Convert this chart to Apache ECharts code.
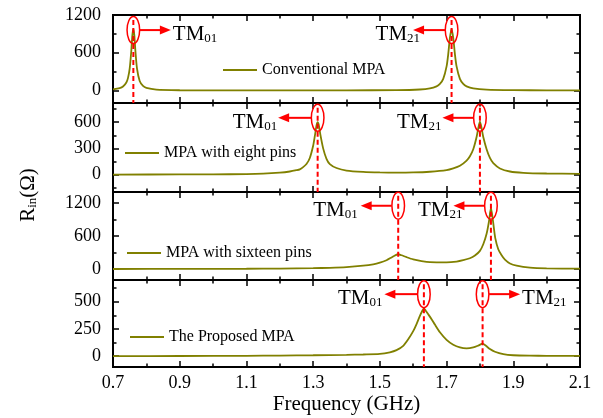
<!DOCTYPE html>
<html>
<head>
<meta charset="utf-8">
<script src="https://cdn.jsdelivr.net/npm/echarts@6/dist/echarts.min.js"></script>
<style>
  html, body { margin: 0; padding: 0; background: #fff; }
  #chart { width: 603px; height: 418px; }
</style>
</head>
<body>
<div id="chart"></div>
<script>
// Input resistance of four microstrip patch antenna variants vs. frequency

// Frequency axis ticks (GHz)
const xMajorTicks = [0.7, 0.9, 1.1, 1.3, 1.5, 1.7, 1.9, 2.1];
const xMinorTicks = [0.8, 1.0, 1.2, 1.4, 1.6, 1.8, 2.0];

// Series names
const seriesNames = ['Conventional MPA', 'MPA with eight pins', 'MPA with sixteen pins', 'The Proposed MPA'];

// Conventional MPA
const freqConventional = [0.70, 0.72, 0.73, 0.74, 0.745, 0.75, 0.755, 0.758, 0.761, 0.764,
  0.767, 0.772, 0.78, 0.79, 0.80, 0.83, 0.90, 1.00, 1.20, 1.40,
  1.55, 1.62, 1.65, 1.67, 1.68, 1.69, 1.70, 1.705, 1.71, 1.715,
  1.72, 1.725, 1.73, 1.74, 1.75, 1.76, 1.78, 1.82, 1.90, 2.00, 2.10];
const rinConventional = [17, 37, 62, 127, 200, 346, 640, 877, 980, 877,
  640, 346, 150, 71, 40, 13, 3, 1, 0, 2,
  5, 15, 32, 65, 103, 183, 382, 578, 835, 980,
  835, 578, 382, 183, 103, 65, 32, 12, 4, 2, 1];

// MPA with eight pins
const freqEightPins = [0.70, 0.90, 1.00, 1.10, 1.15, 1.20, 1.23, 1.25, 1.26, 1.27,
  1.28, 1.29, 1.30, 1.305, 1.31, 1.3135, 1.317, 1.322, 1.33, 1.34,
  1.35, 1.37, 1.40, 1.45, 1.50, 1.55, 1.60, 1.65, 1.70, 1.72,
  1.74, 1.76, 1.77, 1.78, 1.79, 1.795, 1.80, 1.805, 1.81, 1.82,
  1.83, 1.84, 1.86, 1.89, 1.93, 2.00, 2.10];
const rinEightPins = [0, 1, 2, 5, 10, 22, 35, 50, 60, 85,
  120, 190, 330, 440, 560, 600, 565, 450, 300, 180,
  120, 75, 45, 30, 24, 22, 24, 32, 50, 70,
  100, 160, 210, 290, 430, 530, 605, 530, 430, 290,
  190, 130, 70, 35, 20, 12, 8];

// MPA with sixteen pins
const freqSixteenPins = [0.70, 0.90, 1.10, 1.20, 1.30, 1.35, 1.40, 1.45, 1.48, 1.50,
  1.52, 1.535, 1.545, 1.555, 1.565, 1.58, 1.60, 1.625, 1.65, 1.70,
  1.73, 1.75, 1.77, 1.785, 1.80, 1.81, 1.82, 1.827, 1.833, 1.839,
  1.846, 1.855, 1.865, 1.875, 1.89, 1.91, 1.95, 2.00, 2.10];
const rinSixteenPins = [0, 2, 5, 8, 15, 22, 35, 60, 85, 115,
  160, 210, 245, 268, 250, 215, 175, 145, 125, 120,
  135, 160, 195, 245, 330, 450, 640, 860, 1110, 880,
  560, 360, 250, 170, 100, 60, 25, 12, 6];

// The proposed MPA
const freqProposed = [0.70, 0.90, 1.10, 1.20, 1.30, 1.40, 1.45, 1.50, 1.53, 1.55,
  1.57, 1.585, 1.60, 1.61, 1.62, 1.627, 1.632, 1.637, 1.645, 1.655,
  1.665, 1.68, 1.70, 1.72, 1.74, 1.76, 1.78, 1.795, 1.808, 1.818,
  1.83, 1.845, 1.87, 1.90, 1.95, 2.00, 2.10];
const rinProposed = [0, 1, 3, 5, 8, 12, 15, 20, 35, 55,
  95, 155, 230, 295, 370, 415, 440, 420, 385, 340,
  290, 220, 150, 105, 80, 72, 80, 97, 115, 95,
  65, 40, 18, 8, 4, 3, 2];

// Resonant mode frequencies (GHz) marked in each panel: [TM01, TM21]
const modeFreqs = [[0.761, 1.715], [1.3135, 1.80], [1.555, 1.833], [1.632, 1.808]];

// Y tick labels per panel (Ω)
const yMajorTicks = [[0, 600, 1200], [0, 300, 600], [0, 600, 1200], [0, 250, 500]];
const yMinorTicks = [[300, 900], [-150, 150, 450, 750], [300, 900], [125, 375, 625]];

// ---- layout / styling ----
const FONT = 'Liberation Serif';
const OLIVE = '#808000';
const RED = '#ff0000';
const panels = [
  { freq: freqConventional, rin: rinConventional, top: 15, height: 88, yMin: -200, yMax: 1200, legend: [223, 62], mark: 960 },
  { freq: freqEightPins, rin: rinEightPins, top: 103, height: 89, yMin: -200, yMax: 820, legend: [125, 145], mark: 650 },
  { freq: freqSixteenPins, rin: rinSixteenPins, top: 192, height: 88, yMin: -200, yMax: 1400, legend: [127, 245], mark: 1150 },
  { freq: freqProposed, rin: rinProposed, top: 280, height: 87, yMin: -100, yMax: 700, legend: [130, 329], mark: 570 }
];
// Arrow direction, arrow length and label offset from the arrow tip for each mode marker
const markerLayout = [
  [{ dir: 1, len: 31, shift: 2 }, { dir: -1, len: 32, shift: 7 }],
  [{ dir: -1, len: 33, shift: -1 }, { dir: -1, len: 31, shift: -1 }],
  [{ dir: -1, len: 31, shift: -3 }, { dir: -1, len: 31, shift: 9 }],
  [{ dir: -1, len: 33, shift: -2 }, { dir: 1, len: 31, shift: 2 }]
];
const modeNames = ['01', '21'];

const chart = echarts.init(document.getElementById('chart'), null, { renderer: 'canvas' });

const tickStyle = { color: '#000', width: 1.5 };
const labelStyle = { fontFamily: FONT, fontSize: 18, color: '#000' };

const grids = [], xAxes = [], yAxes = [], series = [], legends = [];

panels.forEach((p, i) => {
  grids.push({
    left: 113, right: 23, top: p.top, height: p.height,
    show: true, borderColor: '#000', borderWidth: 2, backgroundColor: 'transparent'
  });
  ['bottom', 'top'].forEach(pos => {
    [xMajorTicks, xMinorTicks].forEach((ticks, k) => {
      const isLabelled = pos === 'bottom' && k === 0 && i === 3;
      const ax = {
        type: 'value', gridIndex: i, position: pos, min: 0.7, max: 2.1,
        axisLine: { show: false, onZero: false },
        axisTick: { show: true, inside: true, length: k === 0 ? 6 : 3.5, customValues: ticks, lineStyle: tickStyle },
        axisLabel: Object.assign({ show: isLabelled, customValues: ticks, margin: 7,
          formatter: v => v.toFixed(1) }, labelStyle),
        splitLine: { show: false }
      };
      if (isLabelled) {
        ax.name = 'Frequency (GHz)';
        ax.nameLocation = 'middle';
        ax.nameGap = 27;
        ax.nameTextStyle = { fontFamily: FONT, fontSize: 21, color: '#000' };
      }
      xAxes.push(ax);
    });
  });
  ['left', 'right'].forEach(pos => {
    [yMajorTicks[i], yMinorTicks[i]].forEach((ticks, k) => {
      yAxes.push({
        type: 'value', gridIndex: i, position: pos, min: p.yMin, max: p.yMax,
        axisLine: { show: false, onZero: false },
        axisTick: { show: true, inside: true, length: k === 0 ? 6 : 3.5, customValues: ticks, lineStyle: tickStyle },
        axisLabel: Object.assign({ show: pos === 'left' && k === 0, customValues: ticks, margin: 12,
          formatter: v => String(v) }, labelStyle),
        splitLine: { show: false }
      });
    });
  });
  series.push({
    type: 'line', name: seriesNames[i],
    xAxisIndex: i * 4, yAxisIndex: i * 4,
    data: p.freq.map((f, j) => [f, p.rin[j]]),
    symbol: 'none', smooth: 0.25,
    lineStyle: { color: OLIVE, width: 1.8 },
    itemStyle: { color: OLIVE },
    z: 3
  });
  legends.push({
    data: [seriesNames[i]], left: p.legend[0], top: p.legend[1], padding: 0,
    icon: 'rect', itemWidth: 34, itemHeight: 2, selectedMode: false,
    itemStyle: { color: OLIVE },
    textStyle: { fontFamily: FONT, fontSize: 16, color: '#000' }
  });
});

chart.setOption({
  animation: false,
  backgroundColor: '#fff',
  grid: grids,
  xAxis: xAxes,
  yAxis: yAxes,
  legend: legends,
  series: series
});

// Mode markers: ellipse at the resonance, dashed guide line, arrow and TM label
const graphics = [];
const subRich = {
  a: { fontFamily: FONT, fontSize: 21, lineHeight: 24, color: '#000', verticalAlign: 'bottom' },
  b: { fontFamily: FONT, fontSize: 13, lineHeight: 2, color: '#000', verticalAlign: 'bottom' }
};
panels.forEach((p, i) => {
  modeFreqs[i].forEach((f, m) => {
    const finder = { xAxisIndex: i * 4, yAxisIndex: i * 4 };
    const c = chart.convertToPixel(finder, [f, p.mark]);
    const bottom = chart.convertToPixel(finder, [f, p.yMin])[1];
    const cx = c[0], cy = c[1];
    const lay = markerLayout[i][m];
    const dir = lay.dir;
    const start = cx + dir * 6.5;
    const tip = start + dir * lay.len;
    graphics.push({
      type: 'line', z: 100,
      shape: { x1: cx, y1: cy - 10, x2: cx, y2: bottom },
      style: { stroke: RED, lineWidth: 2, lineDash: [5, 3] }
    });
    graphics.push({
      type: 'ellipse', z: 101,
      shape: { cx: cx, cy: cy, rx: 6.3, ry: 13.5 },
      style: { fill: null, stroke: RED, lineWidth: 1.5 }
    });
    graphics.push({
      type: 'line', z: 101,
      shape: { x1: start, y1: cy, x2: tip - dir * 8, y2: cy },
      style: { stroke: RED, lineWidth: 2 }
    });
    graphics.push({
      type: 'polygon', z: 101,
      shape: { points: [[tip, cy], [tip - dir * 11, cy - 4.5], [tip - dir * 11, cy + 4.5]] },
      style: { fill: RED }
    });
    graphics.push({
      type: 'text', z: 101,
      x: tip + lay.shift, y: cy + 3,
      style: {
        text: '{a|TM}{b|' + modeNames[m] + '}',
        rich: subRich,
        align: dir > 0 ? 'left' : 'right',
        verticalAlign: 'middle'
      }
    });
  });
});

// Y axis title R_in(Ω)
graphics.push({
  type: 'text', z: 101,
  x: 27, y: 195, rotation: Math.PI / 2,
  style: {
    text: '{a|R}{b|in}{a|(Ω)}',
    rich: subRich,
    align: 'center',
    verticalAlign: 'middle'
  }
});

chart.setOption({ graphic: graphics });
</script>
</body>
</html>
